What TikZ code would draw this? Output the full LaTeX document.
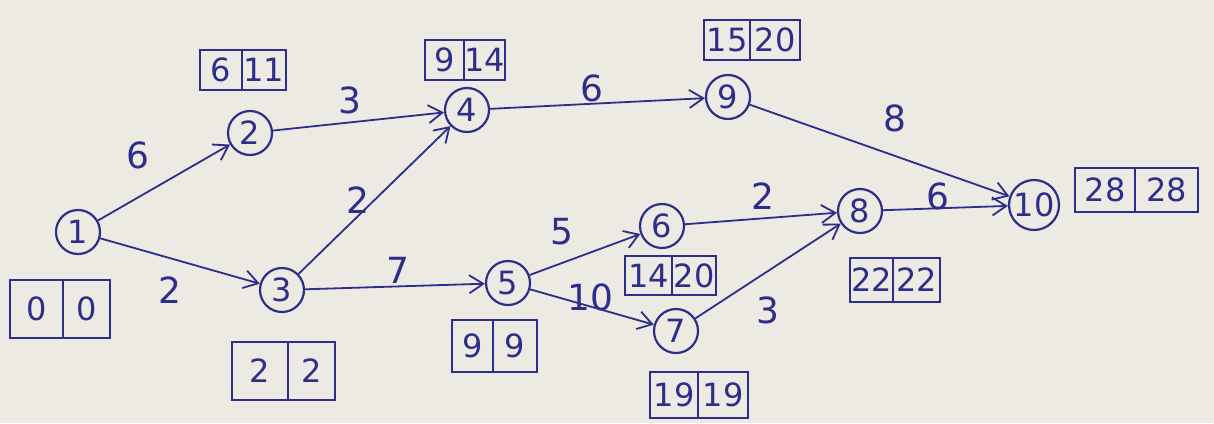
\documentclass[tikz,border=0pt]{standalone}
\usepackage{fontspec}
\setmainfont{DejaVu Sans}
\usetikzlibrary{arrows.meta}
\definecolor{ink}{RGB}{45,45,140}
\definecolor{paper}{RGB}{236,234,226}
\tikzset{
  ev/.style={circle,draw=ink,line width=1.1pt,minimum size=22pt,inner sep=0pt,text=ink,font=\fontsize{16}{16}\selectfont},
  act/.style={draw=ink,line width=0.9pt,-{Straight Barb[length=7pt,width=9pt]}},
  lab/.style={text=ink,font=\fontsize{18}{18}\selectfont},
  tnum/.style={text=ink,font=\fontsize{16}{16}\selectfont,inner sep=0pt},
}
\begin{document}
\begin{tikzpicture}[x=0.5pt,y=-0.5pt]
\fill[paper] (0,0) rectangle (1214,423);
\useasboundingbox (0,0) rectangle (1214,423);
% events
\node[ev] (n1) at (78,232) {1};
\node[ev] (n2) at (250,133) {2};
\node[ev] (n3) at (282,290) {3};
\node[ev] (n4) at (467,110) {4};
\node[ev] (n9) at (728,97) {9};
\node[ev] (n5) at (508,283) {5};
\node[ev] (n6) at (662,226) {6};
\node[ev] (n7) at (676,331) {7};
\node[ev] (n8) at (860,211) {8};
\node[ev,minimum size=25pt] (n10) at (1034,205) {10};
% activities
\draw[act] (n1) -- (n2);
\draw[act] (n1) -- (n3);
\draw[act] (n2) -- (n4);
\draw[act] (n3) -- (n4);
\draw[act] (n3) -- (n5);
\draw[act] (n4) -- (n9);
\draw[act] (n9) -- (n10);
\draw[act] (n5) -- (n6);
\draw[act] (n5) -- (n7);
\draw[act] (n6) -- (n8);
\draw[act] (n7) -- (n8);
\draw[act] (n8) -- (n10);
% durations
\node[lab] (d12) at (138,155) {6};
\node[lab] (d13) at (170,290) {2};
\node[lab] (d24) at (350,100) {3};
\node[lab] (d34) at (358,200) {2};
\node[lab] (d35) at (398,270) {7};
\node[lab] (d49) at (592,88) {6};
\node[lab] (d910) at (895,118) {8};
\node[lab] (d56) at (562,232) {5};
\node[lab] (d57) at (590,297) {10};
\node[lab] (d68) at (763,196) {2};
\node[lab] (d78) at (768,310) {3};
\node[lab] (d810) at (938,196) {6};
% time boxes
\foreach \nm/\xa/\ya/\xm/\xb/\yb/\ea/\la in {
  b1/10/280/63/110/338/0/0,
  b2/200/50/242/286/90/6/11,
  b4/425/40/464/505/80/9/14,
  b9/704/20/750/800/60/15/20,
  b6/625/256/672/716/295/14/20,
  b3/232/342/288/335/400/2/2,
  b5/452/320/493/537/372/9/9,
  b7/650/372/698/748/418/19/19,
  b8/850/258/893/940/302/22/22,
  b10/1075/168/1135/1198/212/28/28}{
  \draw[ink,line width=1pt] (\xa,\ya) rectangle (\xb,\yb);
  \draw[ink,line width=1pt] (\xm,\ya) -- (\xm,\yb);
  \node[tnum] (\nm e) at ({(\xa+\xm)/2},{(\ya+\yb)/2}) {\ea};
  \node[tnum] (\nm l) at ({(\xm+\xb)/2},{(\ya+\yb)/2}) {\la};
}
\end{tikzpicture}
\end{document}
